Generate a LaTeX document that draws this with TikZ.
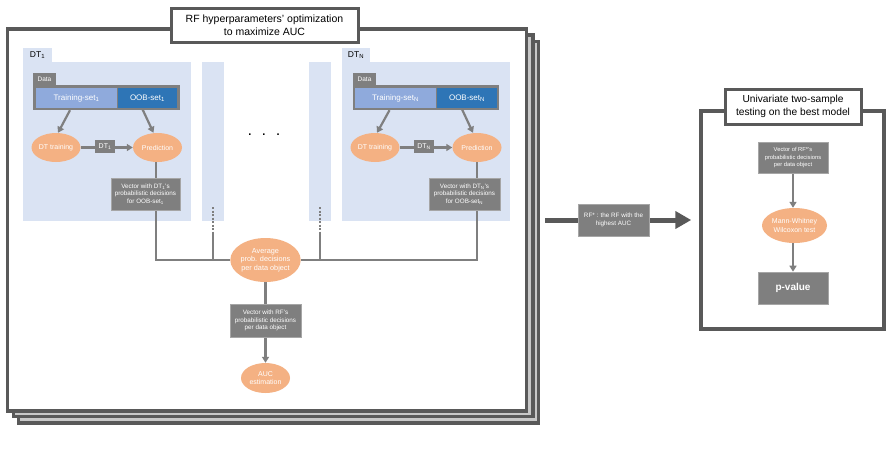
\documentclass[tikz,border=0pt]{standalone}
\usepackage{fontspec}
\setmainfont{Liberation Sans}
\usetikzlibrary{arrows.meta,calc,shapes.geometric}
\pgfdeclarelayer{bg}
\pgfdeclarelayer{lines}
\pgfsetlayers{bg,lines,main}
\definecolor{framegray}{HTML}{595959}
\definecolor{boxgray}{HTML}{7F7F7F}
\definecolor{boxedge}{HTML}{A6A6A6}
\definecolor{orangefill}{HTML}{F4B183}
\definecolor{panelblue}{HTML}{DAE3F3}
\definecolor{trainblue}{HTML}{8FAADC}
\definecolor{oobblue}{HTML}{2E75B6}
\definecolor{gapgray}{HTML}{C8C8C8}
\begin{document}
\begin{tikzpicture}[x=1pt,y=-1pt,
  frame/.style={rectangle, draw=framegray, line width=3.5pt, inner sep=0pt},
  titlebox/.style={rectangle, draw=framegray, fill=white, line width=3pt, align=center, inner sep=0pt, font=\fontsize{10.5}{12.5}\selectfont},
  panel/.style={rectangle, fill=panelblue, inner sep=0pt},
  tab/.style={rectangle, fill=panelblue, inner sep=0pt, font=\fontsize{8.5}{9}\selectfont},
  gbox/.style={rectangle, fill=boxgray, draw=boxedge, line width=0.6pt, text=white, inner sep=0pt, align=center, font=\fontsize{6.3}{7.6}\selectfont},
  setbox/.style={rectangle, text=white, inner sep=0pt, font=\fontsize{8}{9}\selectfont},
  ell/.style={ellipse, fill=orangefill, text=white, inner sep=0pt, align=center, font=\fontsize{7}{8.5}\selectfont},
  conn/.style={draw=boxgray, line width=2.2pt},
  arr/.style={conn, -{Triangle[length=6pt,width=7pt]}},
  bigarr/.style={draw=framegray, line width=5pt, -{Triangle[length=16pt,width=17pt]}}
]
\useasboundingbox (0,0) rectangle (893,458);

\begin{pgfonlayer}{bg}
  % stacked frames
  \node[frame, fill=gapgray, minimum width=520pt, minimum height=381.5pt] (f3) at (278.5,232.25) {};
  \node[frame, fill=gapgray, minimum width=519.5pt, minimum height=381.5pt] (f2) at (273.25,225.75) {};
  \node[frame, fill=white, minimum width=519pt, minimum height=382pt] (f1) at (267,220) {};
  % panels
  \node[panel, minimum width=168pt, minimum height=159pt] (p1) at (107,141.5) {};
  \node[tab, minimum width=29pt, minimum height=14pt] (t1) at (37.5,55) {DT\textsubscript{1}};
  \node[panel, minimum width=22pt, minimum height=159pt] (s1) at (213,141.5) {};
  \node[panel, minimum width=22pt, minimum height=159pt] (s2) at (320,141.5) {};
  \node[panel, minimum width=168pt, minimum height=159pt] (pN) at (426,141.5) {};
  \node[tab, minimum width=28pt, minimum height=14pt] (tN) at (356,55) {DT\textsubscript{N}};
  % right frame
  \node[frame, fill=white, minimum width=183pt, minimum height=218pt] (rf) at (792.5,220) {};
\end{pgfonlayer}

% titles
\node[titlebox, minimum width=187pt, minimum height=34pt] (title) at (264.5,25) {RF hyperparameters' optimization\\to maximize AUC};
\node[titlebox, minimum width=136pt, minimum height=35pt, font=\fontsize{10.2}{12.5}\selectfont] (rtitle) at (793,106.5) {Univariate two-sample\\testing on the best model};

% DT_1 block
\node[rectangle, fill=boxgray, inner sep=0pt, minimum width=147pt, minimum height=25pt] (bar1) at (106.5,97.5) {};
\node[gbox, draw=none, minimum width=23pt, minimum height=12pt, font=\fontsize{6.5}{7}\selectfont] (d1) at (44.5,79) {Data};
\node[setbox, fill=trainblue, minimum width=81pt, minimum height=20pt] (train1) at (76.5,98) {Training-set\textsubscript{1}};
\node[setbox, fill=oobblue, minimum width=59pt, minimum height=20pt] (oob1) at (147.5,98) {OOB-set\textsubscript{1}};
\node[ell, minimum width=49pt, minimum height=29pt] (dtt1) at (56,147.5) {DT training};
\node[ell, minimum width=49pt, minimum height=29pt] (pred1) at (157.5,147.5) {Prediction};
\node[gbox, draw=none, minimum width=20pt, minimum height=13pt, font=\fontsize{7}{8}\selectfont] (dtb1) at (105,146.5) {DT\textsubscript{1}};
\node[gbox, minimum width=69pt, minimum height=32pt] (vec1) at (145.5,194) {Vector with DT\textsubscript{1}'s\\probabilistic decisions\\for OOB-set\textsubscript{1}};

% DT_N block
\node[rectangle, fill=boxgray, inner sep=0pt, minimum width=146pt, minimum height=25pt] (barN) at (426,97.5) {};
\node[gbox, draw=none, minimum width=23pt, minimum height=12pt, font=\fontsize{6.5}{7}\selectfont] (dN) at (364.5,79) {Data};
\node[setbox, fill=trainblue, minimum width=81pt, minimum height=20pt] (trainN) at (395.5,98) {Training-set\textsubscript{N}};
\node[setbox, fill=oobblue, minimum width=60pt, minimum height=20pt] (oobN) at (467,98) {OOB-set\textsubscript{N}};
\node[ell, minimum width=49pt, minimum height=29pt] (dttN) at (375,147.5) {DT training};
\node[ell, minimum width=49pt, minimum height=29pt] (predN) at (477,147.5) {Prediction};
\node[gbox, draw=none, minimum width=20pt, minimum height=13pt, font=\fontsize{7}{8}\selectfont] (dtbN) at (424,146.5) {DT\textsubscript{N}};
\node[gbox, minimum width=71pt, minimum height=32pt] (vecN) at (464.5,194) {Vector with DT\textsubscript{N}'s\\probabilistic decisions\\for OOB-set\textsubscript{N}};

% dots
\node[inner sep=0pt, font=\fontsize{11}{11}\selectfont\bfseries] (dots) at (264,135) {.\hspace{11pt}.\hspace{11pt}.};

% aggregation
\node[ell, minimum width=69pt, minimum height=44pt, font=\fontsize{7.3}{8.6}\selectfont] (avg) at (265.5,260) {Average\\prob. decisions\\per data object};
\node[gbox, minimum width=71pt, minimum height=33pt] (rfvec) at (265.5,320.5) {Vector with RF's\\probabilistic decisions\\per data object};
\node[ell, minimum width=49pt, minimum height=30pt] (auc) at (265.5,378) {AUC\\estimation};

% right part
\node[gbox, minimum width=71pt, minimum height=32pt] (rfstar) at (613.5,220) {RF* : the RF with the\\highest AUC};
\node[gbox, minimum width=70pt, minimum height=31pt, font=\fontsize{5.8}{7.3}\selectfont] (rvec) at (793,157.5) {Vector of RF*'s\\probabilistic decisions\\per data object};
\node[ell, minimum width=65pt, minimum height=35pt] (mw) at (794.5,225.5) {Mann-Whitney\\Wilcoxon test};
\node[gbox, minimum width=70pt, minimum height=32pt, font=\fontsize{10}{11}\selectfont\bfseries] (pval) at (793,288) {p-value};

\coordinate (dA1) at (213,207);
\coordinate (dA2) at (213,234);
\coordinate (dB1) at (320,207);
\coordinate (dB2) at (320,234);
\coordinate (arrS) at (545,220);

\begin{pgfonlayer}{lines}
  \draw[arr] ([xshift=-36.5pt]bar1.south) -- ([xshift=2pt]dtt1.north);
  \draw[arr] ([xshift=-5.5pt]oob1.south) -- ([xshift=-4pt]pred1.north);
  \draw[arr] (dtt1.east) -- (pred1.west);
  \draw[arr] ([xshift=-36.5pt]barN.south) -- ([xshift=2pt]dttN.north);
  \draw[arr] ([xshift=-5.5pt]oobN.south) -- ([xshift=-4pt]predN.north);
  \draw[arr] (dttN.east) -- (predN.west);
  \draw[conn] ([xshift=-1.5pt]pred1.south) -- ([xshift=-1.5pt]pred1.south |- avg.west) -- (avg.west);
  \draw[conn] (predN.south) -- (predN.south |- avg.east) -- (avg.east);
  \draw[conn, dash pattern=on 2pt off 1.5pt] (dA1) -- (dA2);
  \draw[conn] (dA2) -- (dA2 |- avg.west);
  \draw[conn, dash pattern=on 2pt off 1.5pt] (dB1) -- (dB2);
  \draw[conn] (dB2) -- (dB2 |- avg.east);
  \draw[conn] (avg.south) -- (rfvec.north);
  \draw[arr] (rfvec.south) -- (auc.north);
  \draw[bigarr] (arrS) -- ([xshift=-8pt]rf.west);
  \draw[arr] (rvec.south) -- (rvec.south |- mw.north);
  \draw[arr] (rvec.south |- mw.south) -- (pval.north);
\end{pgfonlayer}
\end{tikzpicture}
\end{document}
